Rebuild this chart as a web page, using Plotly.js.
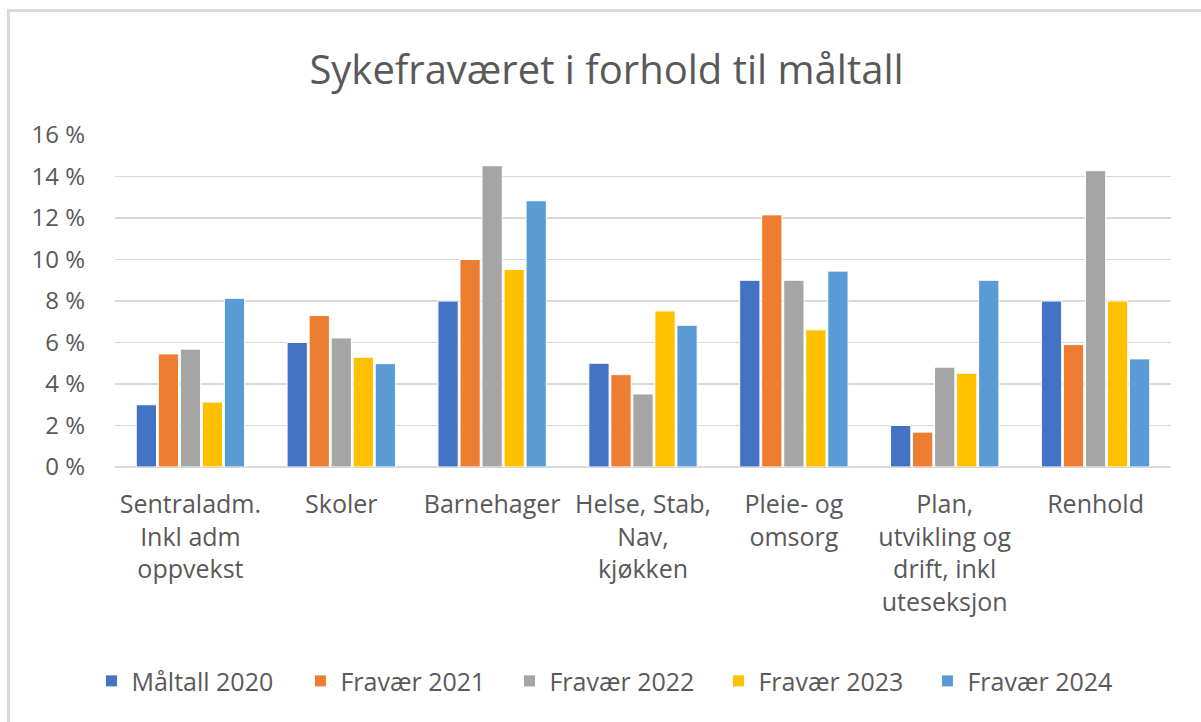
<!DOCTYPE html>
<html>
<head>
<meta charset="utf-8">
<script src="https://cdn.plot.ly/plotly-3.0.1.min.js"></script>
<style>
  html, body { margin: 0; padding: 0; background: #fff; }
  #frame { position: absolute; left: 7px; top: 9px; width: 1194px; height: 713px;
           border-left: 3px solid #d9d9d9; border-top: 3px solid #d9d9d9; pointer-events: none; z-index: 10; }
  #chart { position: absolute; left: 0; top: 0; width: 1201px; height: 722px; }
</style>
</head>
<body>
<div id="chart"></div>
<div id="frame"></div>
<script>
const categories = [
  "Sentraladm.<br>Inkl adm<br>oppvekst",
  "Skoler",
  "Barnehager",
  "Helse, Stab,<br>Nav,<br>kjøkken",
  "Pleie- og<br>omsorg",
  "Plan,<br>utvikling og<br>drift, inkl<br>uteseksjon",
  "Renhold"
];
const seriesNames = ["Måltall 2020", "Fravær 2021", "Fravær 2022", "Fravær 2023", "Fravær 2024"];
const maltall2020 = [0.030, 0.060, 0.080, 0.050, 0.090, 0.020, 0.080];
const fravaer2021 = [0.0545, 0.073, 0.100, 0.0445, 0.1215, 0.0168, 0.059];
const fravaer2022 = [0.0568, 0.0622, 0.1452, 0.0352, 0.090, 0.0481, 0.1428];
const fravaer2023 = [0.0313, 0.0529, 0.0952, 0.0752, 0.0661, 0.0452, 0.080];
const fravaer2024 = [0.0813, 0.0498, 0.1283, 0.0683, 0.0944, 0.090, 0.0521];
const colors = ["#4472C4", "#ED7D31", "#A5A5A5", "#FFC000", "#5B9BD5"];
const yTickVals = [0, 0.02, 0.04, 0.06, 0.08, 0.10, 0.12, 0.14, 0.16];
const yTickText = ["0 %", "2 %", "4 %", "6 %", "8 %", "10 %", "12 %", "14 %", "16 %"];

const allSeries = [maltall2020, fravaer2021, fravaer2022, fravaer2023, fravaer2024];
const font = "'Open Sans', 'Noto Sans', sans-serif";
const traces = allSeries.map((vals, i) => ({
  type: "bar",
  name: seriesNames[i],
  x: categories,
  y: vals,
  marker: { color: colors[i], line: { color: "#ffffff", width: 1 } },
  hoverinfo: "none"
}));

const layout = {
  width: 1201, height: 722,
  paper_bgcolor: "#ffffff", plot_bgcolor: "#ffffff",
  margin: { l: 115, r: 30, t: 135, b: 255, pad: 0, autoexpand: false },
  barmode: "group",
  bargap: 0.27,
  bargroupgap: 0.08,
  title: {
    text: "Sykefraværet i forhold til måltall",
    font: { family: font, size: 40, color: "#595959" },
    x: 0.505, xref: "container", xanchor: "center",
    y: 0.903, yref: "container", yanchor: "middle"
  },
  xaxis: {
    type: "category",
    tickfont: { family: font, size: 25, color: "#595959" },
    showgrid: false, zeroline: false, showline: false,
    ticks: "", ticklen: 0,
    tickangle: 0,
    ticklabelstandoff: 20
  },
  yaxis: {
    range: [0, 0.16],
    tickvals: yTickVals, ticktext: yTickText,
    tickfont: { family: font, size: 24, color: "#595959" },
    showgrid: true, gridcolor: "#d9d9d9", gridwidth: 1.5,
    zeroline: true, zerolinecolor: "#d9d9d9", zerolinewidth: 1.5,
    showline: false, ticks: "", ticklabelstandoff: 29
  },
  showlegend: true,
  legend: {
    orientation: "h",
    x: 0.4725, xanchor: "center",
    y: -0.645, yanchor: "middle",
    font: { family: font, size: 25, color: "#595959" },
    itemwidth: 30,
    entrywidth: 164,
    traceorder: "normal"
  }
};

Plotly.newPlot("chart", traces, layout, { displayModeBar: false, staticPlot: true });
</script>
</body>
</html>
